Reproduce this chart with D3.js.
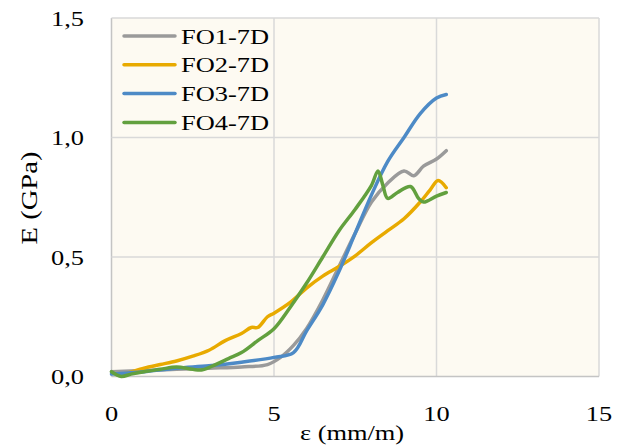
<!DOCTYPE html>
<html>
<head>
<meta charset="utf-8">
<script src="https://cdn.jsdelivr.net/npm/d3@7"></script>
<style>
	body { margin: 0; background: #fff; }
	.chart { width: 631px; height: 448px; }
	text { font-family: "Liberation Serif", "Times New Roman", serif; fill: #000; }
</style>
</head>
<body>
<div class="chart"></div>
<script>
;(function(window, document, undefined) {

	'use strict';

	var seriesNames = ['FO1-7D', 'FO2-7D', 'FO3-7D', 'FO4-7D'];
	var seriesColors = ['#9a9a9a', '#e8aa00', '#4d8ac6', '#62a03e'];

	var xTicks = [0, 5, 10, 15];
	var yTicks = [0, 0.5, 1.0, 1.5];

	// [strain mm/m, E GPa]
	var fo1 = [[0,0.02],[1,0.025],[2,0.03],[3,0.035],[4,0.04],[4.8,0.05],[5.2,0.08],[5.6,0.13],[6,0.2],[6.5,0.32],[7,0.46],[7.5,0.6],[8,0.73],[8.5,0.81],[9,0.86],[9.3,0.84],[9.6,0.88],[10,0.91],[10.3,0.945]];
	var fo2 = [[0.2,0.005],[0.5,0.015],[1,0.035],[1.5,0.05],[2,0.065],[2.5,0.085],[3,0.11],[3.5,0.15],[4,0.18],[4.3,0.205],[4.5,0.205],[4.8,0.25],[5,0.265],[5.5,0.31],[6,0.37],[6.5,0.42],[7,0.46],[7.5,0.505],[8,0.56],[8.5,0.61],[9,0.66],[9.5,0.73],[9.8,0.78],[10.05,0.82],[10.3,0.79]];
	var fo3 = [[0,0.01],[0.5,0.015],[1,0.02],[2,0.035],[3,0.045],[4,0.06],[5,0.08],[5.6,0.1],[6,0.19],[6.5,0.3],[7,0.44],[7.5,0.6],[8,0.76],[8.5,0.9],[9,1.0],[9.5,1.1],[10,1.165],[10.3,1.18]];
	var fo4 = [[0,0.02],[0.3,0.0],[0.6,0.01],[1,0.02],[1.5,0.03],[2,0.04],[2.5,0.03],[2.8,0.028],[3.2,0.05],[3.6,0.075],[4,0.1],[4.5,0.15],[5,0.2],[5.5,0.29],[6,0.39],[6.5,0.5],[7,0.61],[7.5,0.7],[8,0.8],[8.2,0.86],[8.35,0.8],[8.5,0.745],[8.8,0.77],[9.2,0.795],[9.45,0.745],[9.6,0.73],[10,0.755],[10.3,0.77]];

	var seriesData = [fo1, fo2, fo3, fo4];

	function init() {
		render();
	}

	function render() {
		var width = 631;
		var height = 448;
		var svg = d3.select('.chart')
			.append('svg')
			.attr('width', width)
			.attr('height', height);

		var x = d3.scaleLinear().domain([0, 15]).range([111.5, 599]);
		var y = d3.scaleLinear().domain([0, 1.5]).range([376.5, 18]);

		// plot area
		svg.append('rect')
			.attr('x', x(0))
			.attr('y', y(1.5))
			.attr('width', x(15) - x(0))
			.attr('height', y(0) - y(1.5))
			.attr('fill', '#fdfaf2');

		svg.selectAll('line.gx')
			.data(xTicks)
			.enter()
			.append('line')
			.attr('class', 'gx')
			.attr('x1', function(d) { return x(d); })
			.attr('x2', function(d) { return x(d); })
			.attr('y1', y(0))
			.attr('y2', y(1.5))
			.attr('stroke', function(d) { return d === 0 ? '#c4c4c4' : '#d9d9d9'; })
			.attr('stroke-width', 1.5);

		svg.selectAll('line.gy')
			.data(yTicks)
			.enter()
			.append('line')
			.attr('class', 'gy')
			.attr('x1', x(0))
			.attr('x2', x(15))
			.attr('y1', function(d) { return y(d); })
			.attr('y2', function(d) { return y(d); })
			.attr('stroke', function(d) { return d === 0 ? '#c4c4c4' : '#d9d9d9'; })
			.attr('stroke-width', 1.5);

		// tick labels
		svg.selectAll('text.ty')
			.data(yTicks)
			.enter()
			.append('text')
			.attr('class', 'ty')
			.attr('text-anchor', 'end')
			.attr('font-size', 22)
			.attr('transform', function(d) { return 'translate(84,' + (y(d) + 7.5) + ') scale(1.2,1)'; })
			.text(function(d) { return d3.format('.1f')(d).replace('.', ','); });

		svg.selectAll('text.tx')
			.data(xTicks)
			.enter()
			.append('text')
			.attr('class', 'tx')
			.attr('text-anchor', 'middle')
			.attr('font-size', 22)
			.attr('transform', function(d) { return 'translate(' + x(d) + ',421) scale(1.2,1)'; })
			.text(function(d) { return d; });

		// axis titles
		svg.append('text')
			.attr('font-size', 22)
			.attr('transform', 'translate(300,440) scale(1.2,1)')
			.text('ε (mm/m)');

		svg.append('text')
			.attr('font-size', 24)
			.attr('text-anchor', 'middle')
			.attr('textLength', 93)
			.attr('lengthAdjust', 'spacingAndGlyphs')
			.attr('transform', 'translate(37,198) rotate(-90)')
			.text('E (GPa)');

		// series
		var line = d3.line()
			.x(function(d) { return x(d[0]); })
			.y(function(d) { return y(d[1]); })
			.curve(d3.curveCatmullRom.alpha(0.5));

		svg.selectAll('path.series')
			.data(seriesData)
			.enter()
			.append('path')
			.attr('class', 'series')
			.attr('d', line)
			.attr('fill', 'none')
			.attr('stroke', function(d, i) { return seriesColors[i]; })
			.attr('stroke-width', 3.5)
			.attr('stroke-linejoin', 'round')
			.attr('stroke-linecap', 'round');

		// legend
		var legend = svg.selectAll('g.legend')
			.data(seriesNames)
			.enter()
			.append('g')
			.attr('class', 'legend')
			.attr('transform', function(d, i) { return 'translate(0,' + (36 + i * 28.8) + ')'; });

		legend.append('line')
			.attr('x1', 124)
			.attr('x2', 175)
			.attr('stroke', function(d, i) { return seriesColors[i]; })
			.attr('stroke-width', 3.5)
			.attr('stroke-linecap', 'round');

		legend.append('text')
			.attr('font-size', 22)
			.attr('transform', 'translate(181,7.5) scale(1.2,1)')
			.text(function(d) { return d; });
	}

	init();

})(window, document);
</script>
</body>
</html>
